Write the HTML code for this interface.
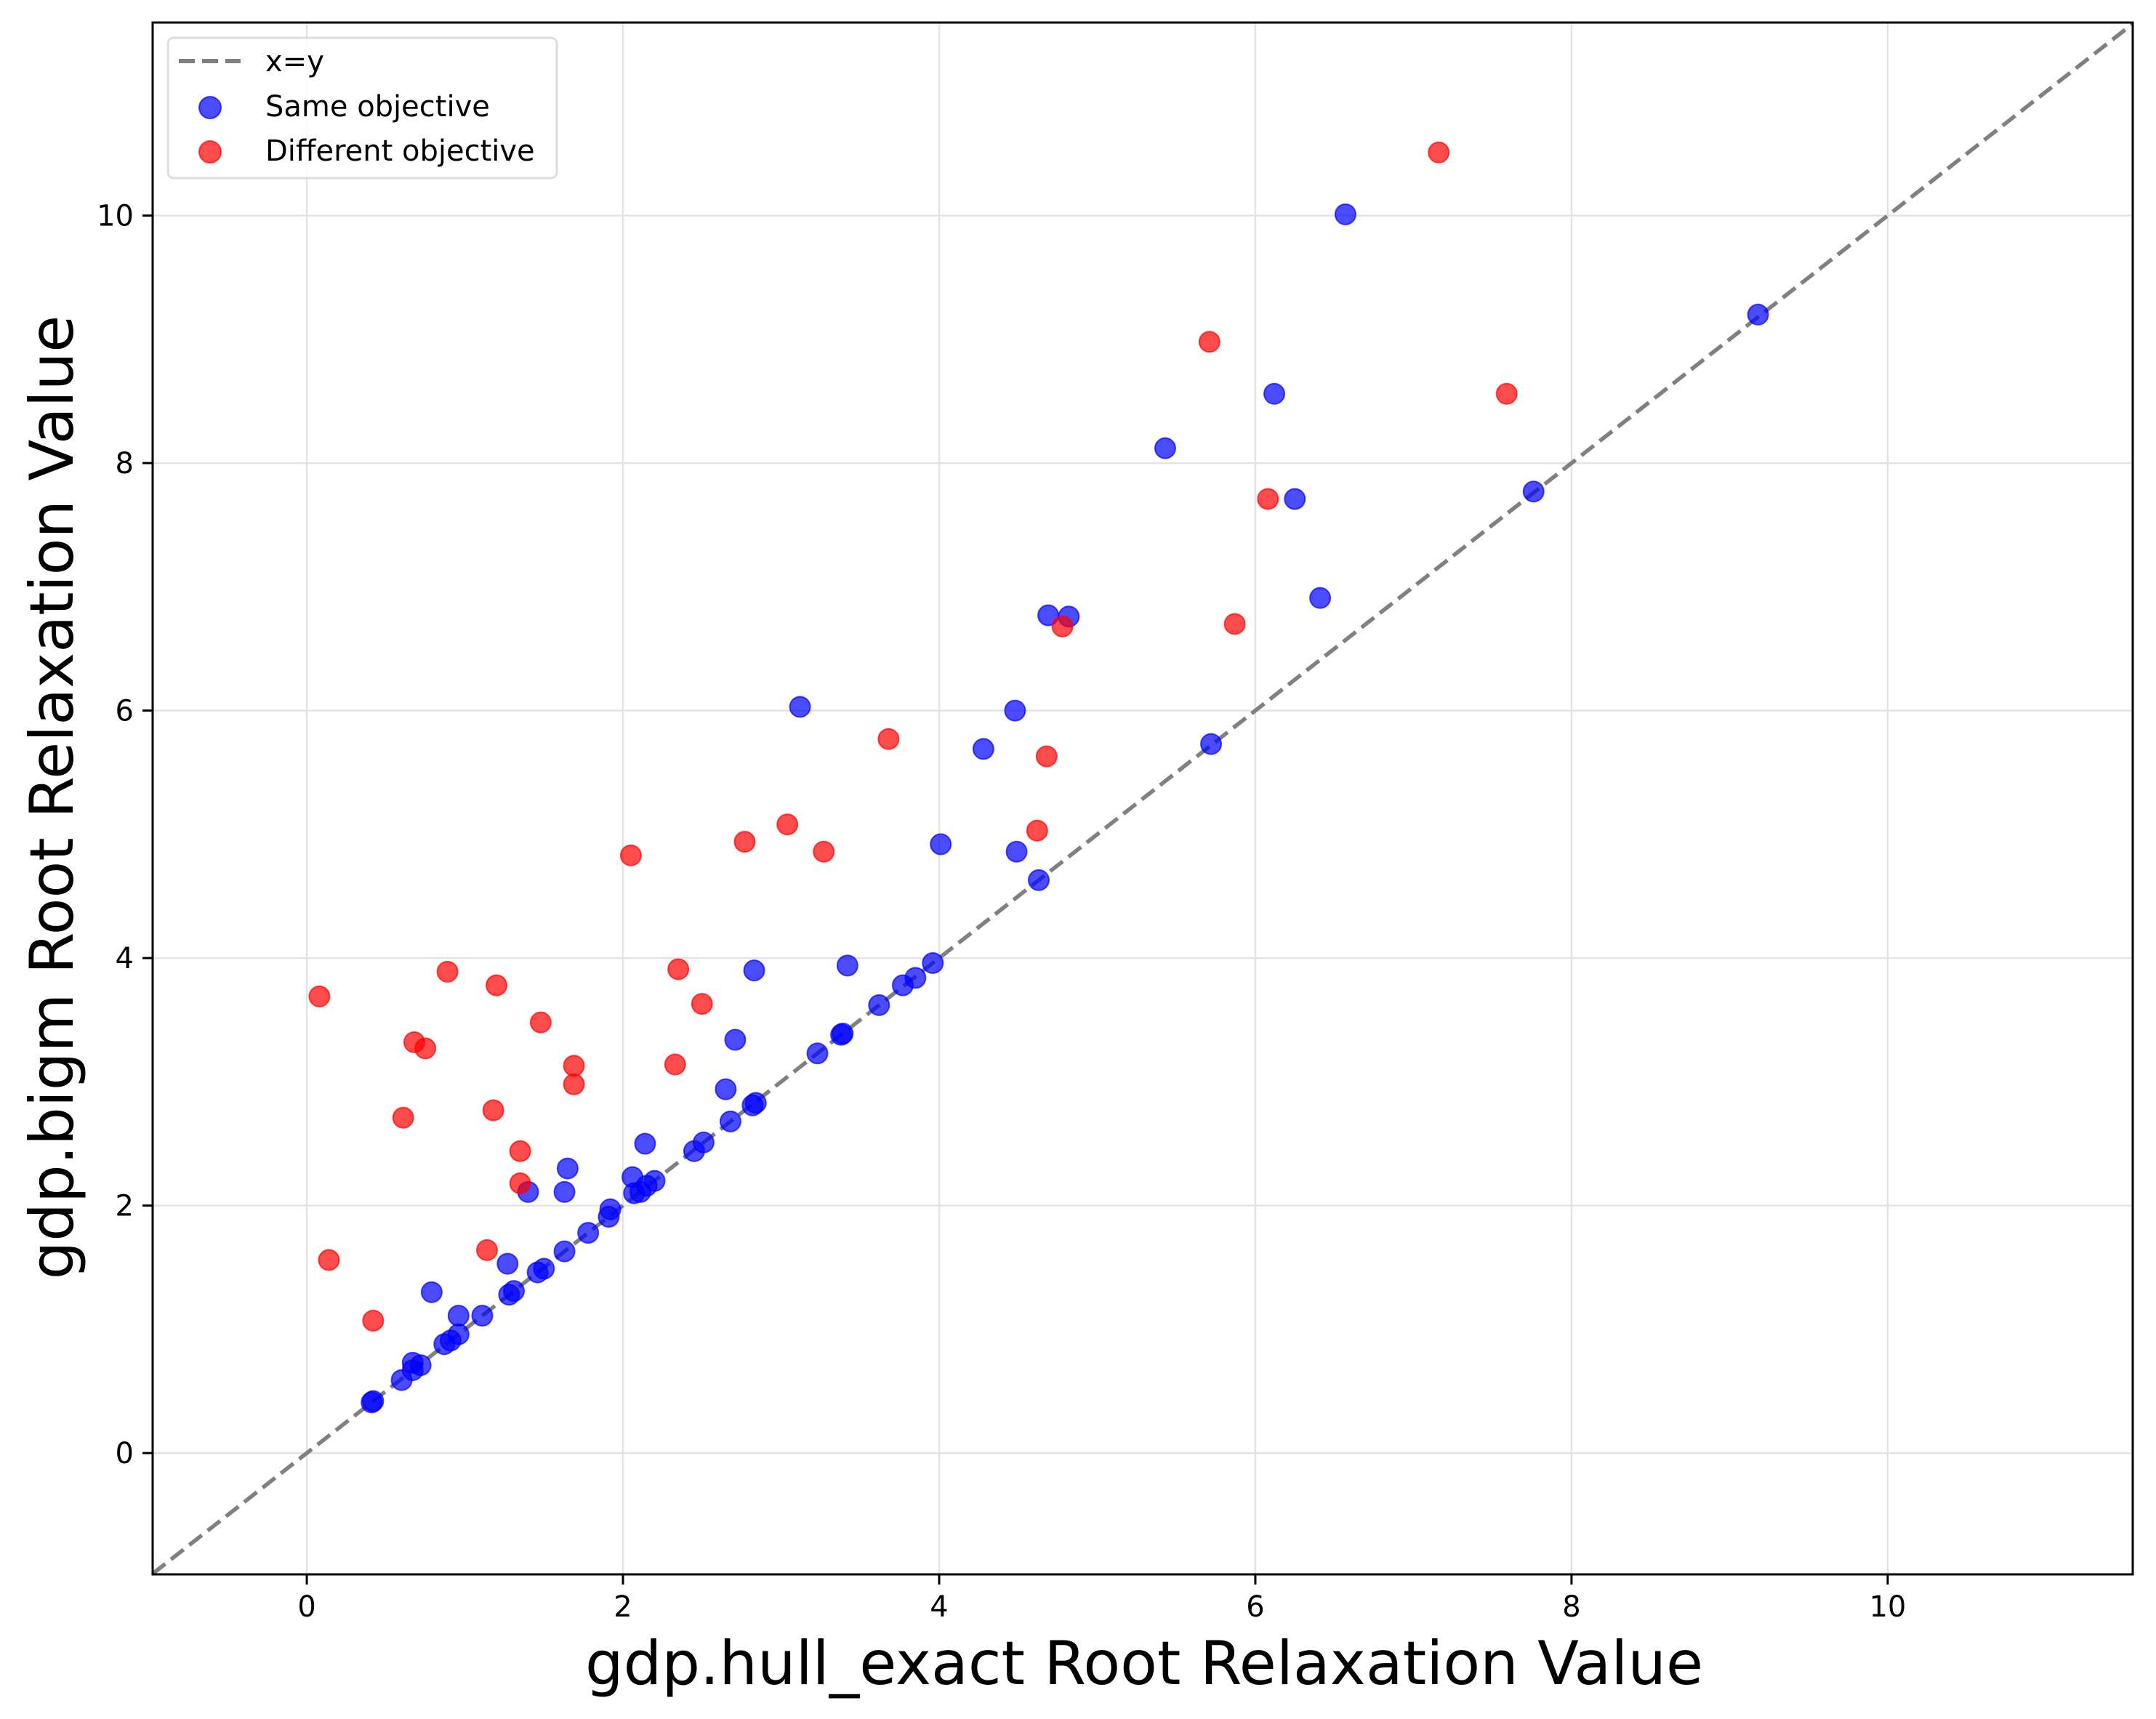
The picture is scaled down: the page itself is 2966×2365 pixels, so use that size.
<!DOCTYPE html>
<html><head><meta charset="utf-8"><style>
html,body{margin:0;padding:0;background:#fff}
svg{display:block;font-family:"DejaVu Sans","Liberation Sans",sans-serif}
</style></head><body>
<svg id="chart" width="2966" height="2365" viewBox="0 0 2966 2365" xmlns="http://www.w3.org/2000/svg">
<rect width="2966" height="2365" fill="#fff"/>
<g id="grid"></g>
<g id="diag"></g>
<g id="pts"></g>
<rect x="210" y="31" width="2724" height="2135" fill="none" stroke="#000" stroke-width="3"/>
<g id="ticks"></g>
<text x="1574" y="2317" font-size="83" text-anchor="middle">gdp.hull_exact Root Relaxation Value</text>
<text transform="translate(100,1097) rotate(-90)" font-size="83" text-anchor="middle">gdp.bigm Root Relaxation Value</text>
<g>
<rect x="231" y="52" width="535" height="193" rx="8" fill="#fff" fill-opacity="0.8" stroke="#ddd" stroke-width="3"/>
<line x1="246" y1="84" x2="331" y2="84" stroke="#808080" stroke-width="6" stroke-dasharray="22,10"/>
<text x="365" y="98" font-size="40">x=y</text>
<circle cx="289" cy="148" r="15" fill="#0000ff" fill-opacity="0.7" stroke="#0000ff" stroke-opacity="0.7" stroke-width="2"/>
<text x="365" y="160" font-size="40">Same objective</text>
<circle cx="289" cy="209" r="15" fill="#ff0000" fill-opacity="0.7" stroke="#ff0000" stroke-opacity="0.7" stroke-width="2"/>
<text x="365" y="221" font-size="40">Different objective</text>
</g>
</svg>
<script>
const xTicks = [0, 2, 4, 6, 8, 10];
const yTicks = [0, 2, 4, 6, 8, 10];
const sameX = [6.57,9.18,6.12,5.43,6.25,7.76,6.41,4.69,4.82,3.12,4.48,4.28,5.72,4.01,4.49,4.63,2.83,3.42,3.96,3.85,3.77,3.62,3.39,3.38,3.23,2.71,2.65,2.84,2.82,2.68,2.51,2.45,2.14,2.2,2.15,2.11,2.07,2.06,1.92,1.91,1.78,1.65,1.63,1.4,1.63,1.5,1.46,1.31,1.28,1.27,1.11,0.96,0.96,0.91,0.87,0.79,0.72,0.67,0.67,0.6,0.42,0.41];
const sameY = [10.01,9.2,8.56,8.12,7.71,7.77,6.91,6.77,6.76,6.03,6.0,5.69,5.73,4.92,4.86,4.63,3.9,3.94,3.96,3.84,3.78,3.62,3.39,3.38,3.23,3.34,2.94,2.83,2.81,2.68,2.51,2.44,2.5,2.2,2.16,2.11,2.1,2.23,1.97,1.91,1.78,2.3,2.11,2.11,1.63,1.49,1.46,1.31,1.28,1.53,1.11,1.11,0.96,0.91,0.88,1.3,0.71,0.73,0.67,0.59,0.42,0.41];
const diffX = [7.16,5.71,7.59,6.08,5.87,4.78,4.68,3.68,4.62,3.04,2.77,3.27,2.05,2.35,2.5,0.89,1.2,1.48,0.08,0.68,0.75,1.69,1.69,2.33,1.18,0.61,1.35,1.35,1.14,0.14,0.42];
const diffY = [10.51,8.98,8.56,7.71,6.7,6.68,5.63,5.77,5.03,5.08,4.94,4.86,4.83,3.91,3.63,3.89,3.78,3.48,3.69,3.32,3.27,3.13,2.98,3.14,2.77,2.71,2.44,2.18,1.64,1.56,1.07];
const xMin=-0.975, xMax=11.55, yMin=-0.98, yMax=11.56;
const L=210,R=2934,T=31,B=2166;
const sx=v=>L+(v-xMin)/(xMax-xMin)*(R-L);
const sy=v=>B-(v-yMin)/(yMax-yMin)*(B-T);
const NS="http://www.w3.org/2000/svg";
function mk(tag,attrs,parent){const e=document.createElementNS(NS,tag);for(const k in attrs)e.setAttribute(k,attrs[k]);parent.appendChild(e);return e;}
const grid=document.getElementById('grid'),ticks=document.getElementById('ticks');
xTicks.forEach(t=>{
  const x=sx(t);
  const g=mk('line',{x1:x,x2:x,y1:T,y2:B,stroke:'#e3e3e3','stroke-width':2.5},grid);
  
  
  const tk=mk('line',{x1:x,x2:x,y1:B,y2:B+14,stroke:'#000','stroke-width':3},ticks);
  
  
  const tx=mk('text',{x:x,y:B+58,'font-size':40,'text-anchor':'middle'},ticks);
  tx.textContent=t;
  
  
});
yTicks.forEach(t=>{
  const y=sy(t);
  const g=mk('line',{x1:L,x2:R,y1:y,y2:y,stroke:'#e3e3e3','stroke-width':2.5},grid);
  
  
  const tk=mk('line',{x1:L-14,x2:L,y1:y,y2:y,stroke:'#000','stroke-width':3},ticks);
  
  
  const tx=mk('text',{x:L-26,y:y+14,'font-size':40,'text-anchor':'end'},ticks);
  tx.textContent=t;
  
  
});
const diag=document.getElementById('diag');
const lo=Math.max(xMin,yMin),hi=Math.min(xMax,yMax);
const dl=mk('line',{x1:sx(lo),y1:sy(lo),x2:sx(hi),y2:sy(hi),stroke:'#808080','stroke-width':5.5,'stroke-dasharray':'22,10'},diag);


const pts=document.getElementById('pts');
sameX.forEach((v,i)=>{
  const c=mk('circle',{cx:sx(v),cy:sy(sameY[i]),r:14,fill:'#0000ff','fill-opacity':0.7,stroke:'#0000ff','stroke-opacity':0.7,'stroke-width':2},pts);
  
  
});
diffX.forEach((v,i)=>{
  const c=mk('circle',{cx:sx(v),cy:sy(diffY[i]),r:14,fill:'#ff0000','fill-opacity':0.7,stroke:'#ff0000','stroke-opacity':0.7,'stroke-width':2},pts);
  
  
});
</script>
</body></html>
